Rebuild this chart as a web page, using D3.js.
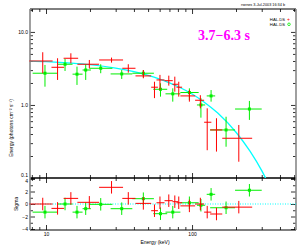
<!DOCTYPE html>
<html>
<head>
<meta charset="utf-8">
<script src="https://cdn.jsdelivr.net/npm/d3@7"></script>
<style>
  body { margin: 0; background: #fff; }
  svg { display: block; }
  text { font-family: "Liberation Sans", Arial, sans-serif; fill: #000; }
</style>
</head>
<body>
<div class="canvas"></div>
<script>
// red set, energies in keV
const redE      = [9.5, 12.0, 14.8, 19.8, 28.1, 36.6, 46.4, 55.3, 60.3, 69.3, 76.2, 81.1, 95.9, 114, 127, 147, 209];
const redELo    = [7.7, 10.9, 13.2, 16.4, 23.1, 33.3, 41.0, 52.5, 57.1, 64.8, 73.4, 78.2, 83.2, 105, 121, 133, 161];
const redEHi    = [11.1, 13.3, 16.6, 23.1, 33.7, 41.0, 52.5, 58.4, 64.8, 73.8, 80.4, 85.5, 105, 121, 135.6, 161, 258];
const redFlux   = [4.0, 3.28, 4.36, 3.61, 4.13, 3.18, 2.50, 1.75, 2.20, 2.15, 1.92, 1.75, 1.33, 1.16, 0.58, 0.455, 0.35];
const redFluxHi = [5.27, 4.36, 5.1, 4.13, 4.45, 3.61, 3.01, 2.08, 2.58, 2.52, 2.44, 2.08, 1.60, 1.36, 0.90, 0.658, 0.532];
const redFluxLo = [2.72, 2.20, 3.72, 3.18, 3.80, 2.77, 2.32, 1.24, 1.60, 1.84, 1.52, 1.30, 1.11, 0.90, 0.24, 0.23, 0.167];
const redSigma  = [0, -0.7, 0.9, 0.27, 2.67, 0.9, 0.1, -1.07, 0.2, 0.53, 0.37, 0.2, -0.3, 0, -1.3, -1.6, -0.5];

// green set
const greenE      = [9.84, 13.5, 16.3, 18.7, 23.7, 33.0, 46.4, 60.8, 73.8, 95.9, 115, 135, 171, 247];
const greenELo    = [8.1, 12.0, 15.2, 17.8, 19.8, 27.7, 39.0, 54.3, 65.8, 83.2, 108, 126, 133, 197];
const greenEHi    = [12.0, 15.2, 17.8, 20.3, 28.5, 39.0, 54.8, 67.6, 83.2, 111, 123, 144, 197, 300];
const greenFlux   = [2.72, 3.61, 2.64, 3.01, 3.18, 2.66, 2.72, 1.64, 1.42, 1.48, 1.0, 1.33, 0.455, 0.88];
const greenFluxHi = [3.53, 4.27, 3.35, 3.61, 3.61, 3.01, 3.01, 1.98, 1.69, 1.69, 1.24, 1.60, 0.69, 1.135];
const greenFluxLo = [1.78, 2.92, 1.88, 2.20, 2.72, 2.27, 2.39, 1.30, 1.11, 1.17, 0.67, 1.11, 0.268, 0.624];
const greenSigma  = [-1.3, 0, -1.3, -0.75, -0.05, -0.75, 0.85, -1.55, -1.3, 0.2, -0.2, 1.55, -0.6, 2.2];

// model curve
const modelE    = [7.7, 10, 15, 20, 30, 40, 50, 60, 70, 80, 100, 120, 150, 200, 250, 300, 330];
const modelFlux = [3.99, 3.92, 3.74, 3.56, 3.19, 2.85, 2.54, 2.26, 2.01, 1.79, 1.41, 1.11, 0.774, 0.423, 0.231, 0.126, 0.087];

const xMajor = [10, 100];
const xMinor = [8, 9, 20, 30, 40, 50, 60, 70, 80, 90, 200, 300, 400, 500];
const yMajor = [0.1, 1, 10];
const yMinor = [0.2, 0.3, 0.4, 0.5, 0.6, 0.7, 0.8, 0.9, 2, 3, 4, 5, 6, 7, 8, 9, 20];
const sMajor = [-4, -2, 0, 2, 4];
const sMinor = [-3, -1, 1, 3];

const dims = {width: 302, height: 249, left: 30, right: 296, top: 9, mid: 178, bottom: 230};

const svg = d3.select('.canvas')
    .append('svg')
    .attr('width', dims.width)
    .attr('height', dims.height);

const x = d3.scaleLog().domain([7.77, 515]).range([dims.left, dims.right]);
const y = d3.scaleLog().domain([0.1, 20.6]).range([dims.mid, dims.top]);
const ys = d3.scaleLinear().domain([-4.16, 4.16]).range([dims.bottom, dims.mid]);

svg.append('clipPath').attr('id', 'clipMain')
    .append('rect')
    .attr('x', dims.left).attr('y', dims.top)
    .attr('width', dims.right - dims.left).attr('height', dims.mid - dims.top);

// ticks
const tickAxis = (axis, tr, size, vals, fmt) => {
    const g = svg.append('g')
        .attr('transform', tr)
        .call(axis.tickValues(vals).tickSize(size).tickPadding(2).tickFormat(fmt || ''));
    g.select('.domain').remove();
    g.selectAll('line').attr('stroke', '#000').attr('stroke-width', 0.8);
    g.selectAll('text').attr('font-size', 5).attr('fill', '#000').attr('font-family', '"Liberation Sans", Arial, sans-serif');
    return g;
};

[[d3.axisTop(x), `translate(0,${dims.top})`],
 [d3.axisBottom(x), `translate(0,${dims.mid})`],
 [d3.axisTop(x), `translate(0,${dims.mid})`],
 [d3.axisBottom(x), `translate(0,${dims.bottom})`]].forEach(([ax, tr], i) => {
    tickAxis(ax, tr, -3, xMinor);
    tickAxis(i % 2 ? d3.axisBottom(x) : d3.axisTop(x), tr, -5, xMajor,
        i === 3 ? d3.format('d') : '');
});

tickAxis(d3.axisLeft(y), `translate(${dims.left},0)`, -3, yMinor);
tickAxis(d3.axisLeft(y), `translate(${dims.left},0)`, -5, yMajor, d => d3.format('.1f')(d))
    .selectAll('text').filter(d => d === 0.1).attr('dy', '-0.35em');
tickAxis(d3.axisRight(y), `translate(${dims.right},0)`, -3, yMinor);
tickAxis(d3.axisRight(y), `translate(${dims.right},0)`, -5, yMajor);

tickAxis(d3.axisLeft(ys), `translate(${dims.left},0)`, -3, sMinor);
tickAxis(d3.axisLeft(ys), `translate(${dims.left},0)`, -5, sMajor, d3.format('d'))
    .selectAll('text').filter(d => d === 4).attr('dy', '0.75em');
tickAxis(d3.axisRight(ys), `translate(${dims.right},0)`, -3, sMinor);
tickAxis(d3.axisRight(ys), `translate(${dims.right},0)`, -5, sMajor);

// frame
const frame = svg.append('g');
[dims.top, dims.mid, dims.bottom].forEach(yy => {
    frame.append('line').attr('x1', dims.left).attr('x2', dims.right)
        .attr('y1', yy).attr('y2', yy).attr('stroke', '#000').attr('stroke-width', yy === dims.mid ? 1.4 : 1);
});
[dims.left, dims.right].forEach(xx => {
    frame.append('line').attr('x1', xx).attr('x2', xx)
        .attr('y1', dims.top).attr('y2', dims.bottom).attr('stroke', '#888').attr('stroke-width', 1.6);
});

// model
const plot = svg.append('g').attr('clip-path', 'url(#clipMain)');
const model = modelE.map((e, i) => ({e, f: modelFlux[i]}));
plot.append('path')
    .datum(model)
    .attr('fill', 'none')
    .attr('stroke', '#00ffff')
    .attr('stroke-width', 1.3)
    .attr('d', d3.line().x(d => x(d.e)).y(d => y(d.f)).curve(d3.curveMonotoneX));

// residual zero line
svg.append('line')
    .attr('x1', dims.left).attr('x2', dims.right)
    .attr('y1', ys(0)).attr('y2', ys(0))
    .attr('stroke', '#00ffff').attr('stroke-width', 1)
    .attr('stroke-dasharray', '1,1.5');

const makeSet = (E, lo, hi, f, fhi, flo, sig, colour, marker) => {
    const data = E.map((e, i) => ({e, lo: lo[i], hi: hi[i], f: f[i], fhi: fhi[i], flo: flo[i], s: sig[i]}));
    const g = svg.append('g').attr('stroke', colour).attr('stroke-width', 1);

    g.selectAll('.hm').data(data).enter().append('line')
        .attr('x1', d => x(d.lo)).attr('x2', d => x(d.hi))
        .attr('y1', d => y(d.f)).attr('y2', d => y(d.f));
    g.selectAll('.vm').data(data).enter().append('line')
        .attr('x1', d => x(d.e)).attr('x2', d => x(d.e))
        .attr('y1', d => y(d.fhi)).attr('y2', d => y(Math.max(d.flo, 0.1)));

    g.selectAll('.hs').data(data).enter().append('line')
        .attr('x1', d => x(d.lo)).attr('x2', d => x(d.hi))
        .attr('y1', d => ys(d.s)).attr('y2', d => ys(d.s));
    g.selectAll('.vs').data(data).enter().append('line')
        .attr('x1', d => x(d.e)).attr('x2', d => x(d.e))
        .attr('y1', d => ys(d.s + 1)).attr('y2', d => ys(d.s - 1));

    if (marker) {
        g.selectAll('.mk').data(data).enter().append('rect')
            .attr('x', d => x(d.e) - 1.5).attr('y', d => y(d.f) - 1.5)
            .attr('width', 3).attr('height', 3)
            .attr('fill', colour).attr('stroke', 'none');
        g.selectAll('.mks').data(data).enter().append('rect')
            .attr('x', d => x(d.e) - 1.5).attr('y', d => ys(d.s) - 1.5)
            .attr('width', 3).attr('height', 3)
            .attr('fill', colour).attr('stroke', 'none');
    }
};

makeSet(greenE, greenELo, greenEHi, greenFlux, greenFluxHi, greenFluxLo, greenSigma, '#00ee00', true);
makeSet(redE, redELo, redEHi, redFlux, redFluxHi, redFluxLo, redSigma, '#ff0000', false);

// labels
svg.append('text')
    .attr('x', 155).attr('y', 244)
    .attr('text-anchor', 'middle')
    .attr('font-size', 5)
    .text('Energy (keV)');

svg.append('text')
    .attr('transform', 'translate(13,128) rotate(-90)')
    .attr('text-anchor', 'middle')
    .attr('font-size', 5)
    .text('Energy (photons cm⁻² s⁻¹)');

svg.append('text')
    .attr('transform', `translate(18,${ys(0)}) rotate(-90)`)
    .attr('text-anchor', 'middle')
    .attr('font-size', 5)
    .text('Sigma');

svg.append('text')
    .attr('x', 285).attr('y', 6)
    .attr('text-anchor', 'end')
    .attr('font-size', 3.8)
    .text('rsenes 3-Jul-2003 16:34 b');

// legend
const legend = svg.append('g');
legend.append('text').attr('x', 285).attr('y', 20.5).attr('text-anchor', 'end').attr('font-size', 4.2).text('HAL.DS');
legend.append('text').attr('x', 285).attr('y', 26).attr('text-anchor', 'end').attr('font-size', 4.2).text('HAL.DS');
legend.append('text').attr('x', 287).attr('y', 21).attr('font-size', 5).style('fill', '#ff0000').text('+');
legend.append('circle').attr('cx', 289).attr('cy', 24.3).attr('r', 1.3)
    .attr('fill', 'none').attr('stroke', '#00ee00').attr('stroke-width', 0.8);

// title
svg.append('text')
    .attr('x', 198).attr('y', 40)
    .attr('font-weight', 'bold')
    .attr('font-size', 14)
    .style('fill', '#ff00ff')
    .style('font-family', '"Liberation Serif", "Times New Roman", serif')
    .text('3.7−6.3 s');
</script>
</body>
</html>
